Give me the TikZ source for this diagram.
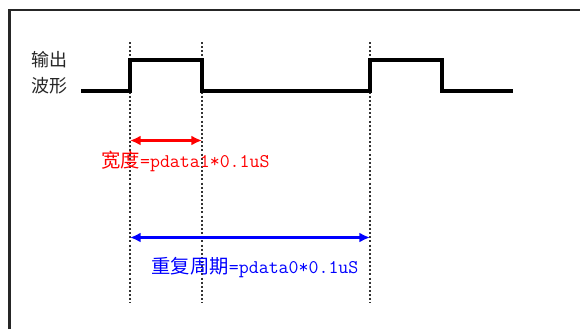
\documentclass[tikz,border=0pt]{standalone}
\usepackage{fontspec}
\newfontfamily\cjk{Noto Sans CJK SC}
\usetikzlibrary{arrows.meta}
\newlength{\px}
\setlength{\px}{0.75pt}

\begin{document}
\begin{tikzpicture}[x = \px, y = -\px,
    wave/.style = {draw = black, line width = 2.6pt, line join = miter},
    guide/.style = {draw = black!80, line width = 1.4pt, dash pattern = on 1.5pt off 1.6pt},
    span/.style = {line width = 1.8pt, {Latex[length = 8pt, width = 7.5pt]}-{Latex[length = 8pt, width = 7.5pt]}},
    label/.style = {font = \fontsize{13.5}{15}\selectfont, inner sep = 0pt},
    note/.style = {font = \fontsize{14.5}{16}\selectfont, inner sep = 0pt}]

    \useasboundingbox (0, 0) rectangle (580, 329);
    \draw[line width = 1.6pt, black!85] (9.5, 329) -- (9.5, 10) -- (580, 10);

    % guide lines
    \foreach \name/\x in {a/130, b/202, c/370} {
      \coordinate (\name top) at (\x, 42);
      \coordinate (\name bot) at (\x, 303);
      \draw[guide] (\name top) -- (\name bot);
    }

    % output waveform
    \draw[wave] (81, 91) -- (130, 91) -- (130, 60) -- (202, 60) -- (202, 91)
      -- (370, 91) -- (370, 60) -- (442, 60) -- (442, 91) -- (513, 91);

    \node[label, text = black!85] (out) at (49.5, 60) {\cjk 输出};
    \node[label, text = black!85] (shape) at (49.5, 86) {\cjk 波形};

    % width
    \coordinate (w1) at (130, 140.5);
    \coordinate (w2) at (202, 140.5);
    \draw[span, red] (w1) -- (w2);
    \node[note, text = red] (width) at (185.5, 161) {{\cjk 宽度}\ttfamily=pdata1*0.1uS};

    % period
    \coordinate (p1) at (130, 237.5);
    \coordinate (p2) at (370, 237.5);
    \draw[span, blue] (p1) -- (p2);
    \node[note, text = blue] (period) at (255, 268) {{\cjk 重复周期}\ttfamily=pdata0*0.1uS};
  \end{tikzpicture}
\end{document}
